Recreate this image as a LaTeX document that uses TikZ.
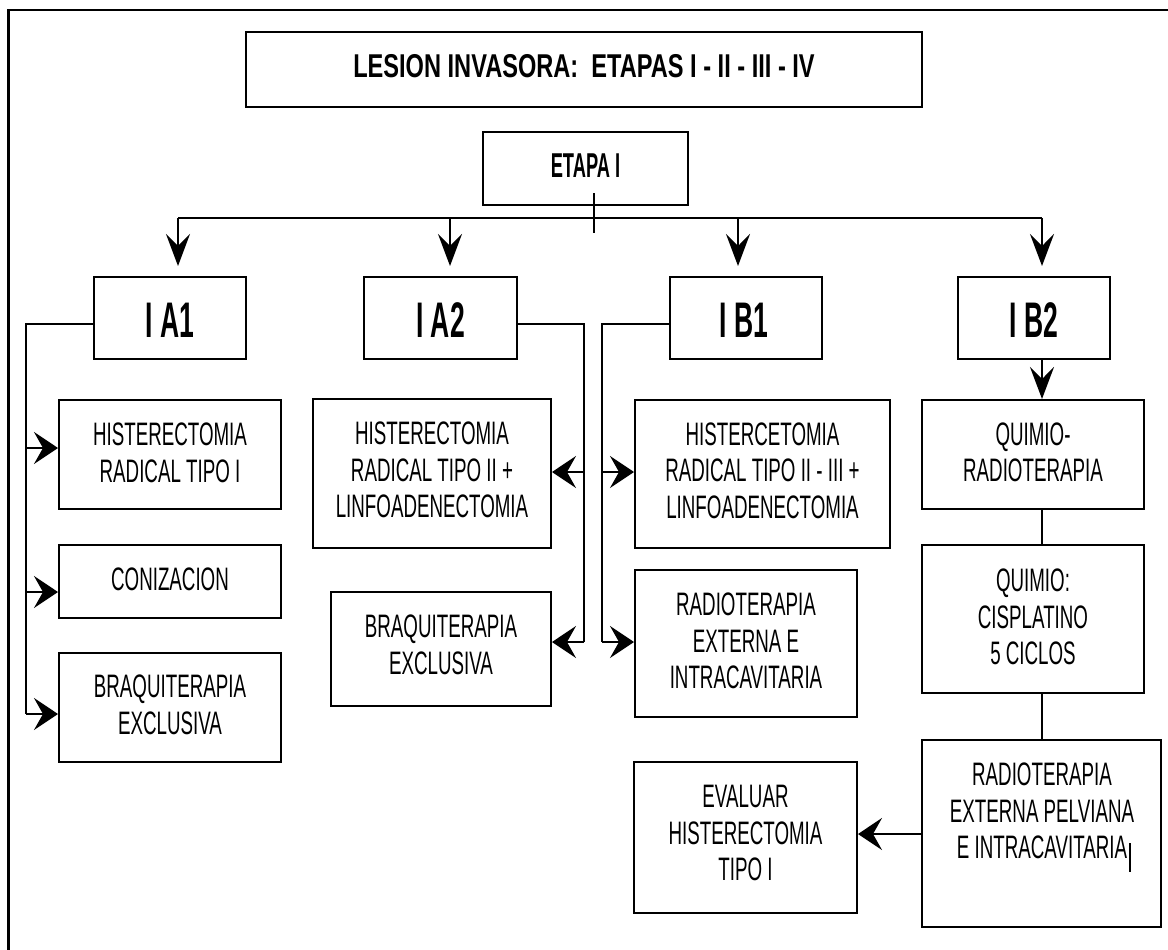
\documentclass[tikz,border=0pt]{standalone}
\usepackage{fontspec}
\usetikzlibrary{arrows.meta,fit}
% condensed sans faces
\newfontfamily\bodyfam{Liberation Sans}[FakeStretch=0.577]
\newfontfamily\labelfam{Liberation Sans}[FakeStretch=0.53]
\newfontfamily\titlefam{Liberation Sans}[FakeStretch=0.715]

\begin{document}
\begin{tikzpicture}[x=1pt,y=-1pt,
  conn/.style={line width=2pt, line join=miter},
  bx/.style={draw, line width=2pt, rectangle, inner sep=0pt},
  hhead/.style={-{Stealth[length=24pt,width=32pt,inset=9pt]}},
  vhead/.style={-{Stealth[length=32pt,width=24pt,inset=12pt]}},
  txt/.style={inner sep=0pt, align=center, font=\bodyfam\fontsize{32.5}{36.5}\selectfont},
  ttl/.style={inner sep=0pt, font=\titlefam\bfseries\fontsize{33}{38}\selectfont},
  stg/.style={inner sep=0pt, font=\labelfam\bfseries\fontsize{34.5}{40}\selectfont},
  big/.style={inner sep=0pt, font=\labelfam\bfseries\fontsize{50}{60}\selectfont}]

\useasboundingbox (0,0) rectangle (1168,950);
% page frame, running off the right and bottom edges
\begin{scope}
  \clip (0,0) rectangle (1168,950);
  \draw[line width=2.2pt] (8.5,10) rectangle (1190,970);
\end{scope}

% boxes
\node[bx, fit={(246,32) (922,107)}] (title) {};
\node[bx, fit={(483,132) (688,205)}] (etapa) {};
\node[bx, fit={(94,277) (246,359)}] (ia1) {};
\node[bx, fit={(364,277) (517,359)}] (ia2) {};
\node[bx, fit={(670,277) (822,359)}] (ib1) {};
\node[bx, fit={(958,277) (1110,359)}] (ib2) {};
\node[bx, fit={(59,400) (281,509)}] (a1) {};
\node[bx, fit={(59,545) (281,618)}] (a2) {};
\node[bx, fit={(59,653) (281,762)}] (a3) {};
\node[bx, fit={(313,399) (551,548)}] (b1) {};
\node[bx, fit={(331,592) (551,706)}] (b2) {};
\node[bx, fit={(635,400) (890,548)}] (c1) {};
\node[bx, fit={(635,570) (857,717)}] (c2) {};
\node[bx, fit={(922,400) (1144,509)}] (d1) {};
\node[bx, fit={(922,545) (1144,693)}] (d2) {};
\node[bx, fit={(922,740) (1161,927)}] (d3) {};
\node[bx, fit={(634,762) (857,913)}] (e1) {};

% headings
\node[ttl] (title-t) at ([yshift=3pt]title.center) {LESION INVASORA:~~ETAPAS I - II - III - IV};
\node[stg] (etapa-t) at ([yshift=3pt]etapa.center) {ETAPA I};
\node[big] (ia1-t) at ([yshift=-2pt]ia1.center) {I A1};
\node[big] (ia2-t) at ([yshift=-2pt]ia2.center) {I A2};
\node[big] (ib1-t) at ([yshift=-2pt,xshift=-2pt]ib1.center) {I B1};
\node[big] (ib2-t) at ([yshift=-2pt]ib2.center) {I B2};

% treatment texts
\node[txt] (a1-t) at ([yshift=1.5pt]a1.center) {HISTERECTOMIA\\RADICAL TIPO I};
\node[txt] (a2-t) at ([yshift=2.5pt]a2.center) {CONIZACION};
\node[txt] (a3-t) at ([yshift=2.5pt]a3.center) {BRAQUITERAPIA\\EXCLUSIVA};
\node[txt] (b1-t) at ([yshift=3.5pt]b1.center) {HISTERECTOMIA\\RADICAL TIPO II +\\LINFOADENECTOMIA};
\node[txt] (b2-t) at ([yshift=4pt]b2.center) {BRAQUITERAPIA\\EXCLUSIVA};
\node[txt] (c1-t) at ([yshift=3.5pt]c1.center) {HISTERCETOMIA\\RADICAL TIPO II - III +\\LINFOADENECTOMIA};
\node[txt] (c2-t) at ([yshift=2.5pt]c2.center) {RADIOTERAPIA\\EXTERNA E\\INTRACAVITARIA};
\node[txt] (d1-t) at ([yshift=2pt]d1.center) {QUIMIO-\\RADIOTERAPIA};
\node[txt] (d2-t) at ([yshift=2pt]d2.center) {QUIMIO:\\CISPLATINO\\5 CICLOS};
\node[txt] (d3-t) at (1042,811) {RADIOTERAPIA\\EXTERNA PELVIANA\\E INTRACAVITARIA};
\node[txt] (e1-t) at ([yshift=4.5pt]e1.center) {EVALUAR\\HISTERECTOMIA\\TIPO I};
% text cursor left after the last word
\draw[line width=1.5pt] (1130,843) -- (1130,872);

% stage I bus
\coordinate (busL) at (178,218);
\coordinate (busR) at (1042,218);
\draw[conn] (busL) -- (busR);
\draw[conn] ([xshift=8.5pt,yshift=13pt]etapa.south) -- ([xshift=8.5pt,yshift=-27pt]etapa.south);
\foreach \x/\n in {178/ia1, 450/ia2, 738/ib1, 1042/ib2} {
  \coordinate (drop-\n) at (\x,218);
  \draw[conn, vhead, shorten >=10pt] (drop-\n) -- (drop-\n |- \n.north);
}

% I A1 branch
\coordinate (ja)  at (26,324);
\coordinate (ja1) at (26,448);
\coordinate (ja2) at (26,592);
\coordinate (ja3) at (26,714);
\draw[conn] (ia1.west |- ja) -- (ja) -- (ja3);
\foreach \p/\b in {ja1/a1, ja2/a2, ja3/a3}
  \draw[conn, hhead] (\p) -- (\b.west |- \p);

% I A2 branch
\coordinate (jb)  at (584,324);
\coordinate (jb1) at (584,472);
\coordinate (jb2) at (584,642);
\draw[conn] (ia2.east |- jb) -- (jb) -- (jb2);
\draw[conn, hhead] (jb1) -- (b1.east |- jb1);
\draw[conn, hhead] (jb2) -- (b2.east |- jb2);

% I B1 branch
\coordinate (jc)  at (602,324);
\coordinate (jc1) at (602,472);
\coordinate (jc2) at (602,642);
\draw[conn] (ib1.west |- jc) -- (jc) -- (jc2);
\draw[conn, hhead] (jc1) -- (c1.west |- jc1);
\draw[conn, hhead] (jc2) -- (c2.west |- jc2);

% I B2 chain
\draw[conn, vhead] (ib2.south -| drop-ib2) -- (d1.north -| drop-ib2);
\draw[conn] (d1.south -| drop-ib2) -- (d2.north -| drop-ib2);
\draw[conn] (d2.south -| drop-ib2) -- (d3.north -| drop-ib2);
\coordinate (je) at (922,834);
\draw[conn, hhead] (d3.west |- je) -- (e1.east |- je);
\end{tikzpicture}
\end{document}
